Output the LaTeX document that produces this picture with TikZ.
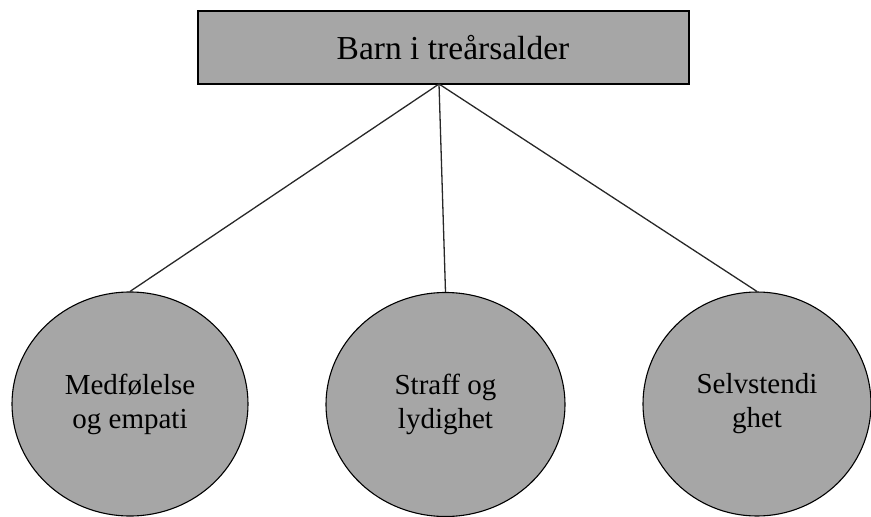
\documentclass[tikz,border=0pt]{standalone}
\usepackage{fontspec}
\setmainfont{Liberation Serif}
\usetikzlibrary{shapes.geometric}
\definecolor{boxgray}{RGB}{166,166,166}
\definecolor{linegray}{RGB}{40,40,40}
\tikzset{
  topbox/.style={draw=black, line width=1.8pt, fill=boxgray, minimum width=491pt, minimum height=73pt, inner sep=0pt},
  toptext/.style={font=\fontsize{33.5pt}{38pt}\selectfont, inner sep=0pt},
  bubble/.style={ellipse, draw=black, line width=1.1pt, fill=boxgray, inner sep=0pt, align=center,
    font=\fontsize{29pt}{34pt}\selectfont},
  link/.style={draw=linegray, line width=1.3pt}
}
\begin{document}
\begin{tikzpicture}[x=1pt,y=-1pt]
\useasboundingbox (0,0) rectangle (871,517);
\node[topbox] (top) at (443.5,47.5) {};
\node[toptext] (toplabel) at (453,47.5) {Barn i treårsalder};
\coordinate (apex) at (439,84);
\node[bubble, minimum width=236pt, minimum height=224pt] (l) at (130,404) {Medfølelse\\og empati};
\node[bubble, minimum width=239pt, minimum height=224pt] (m) at (445.5,404.5) {Straff og\\lydighet};
\node[bubble, minimum width=228pt, minimum height=224pt] (r) at (757,404) {Selvstendi\\ghet};
\draw[link] (apex) -- (l.north);
\draw[link] (apex) -- (m.north);
\draw[link] (apex) -- (r.north);
\end{tikzpicture}
\end{document}
